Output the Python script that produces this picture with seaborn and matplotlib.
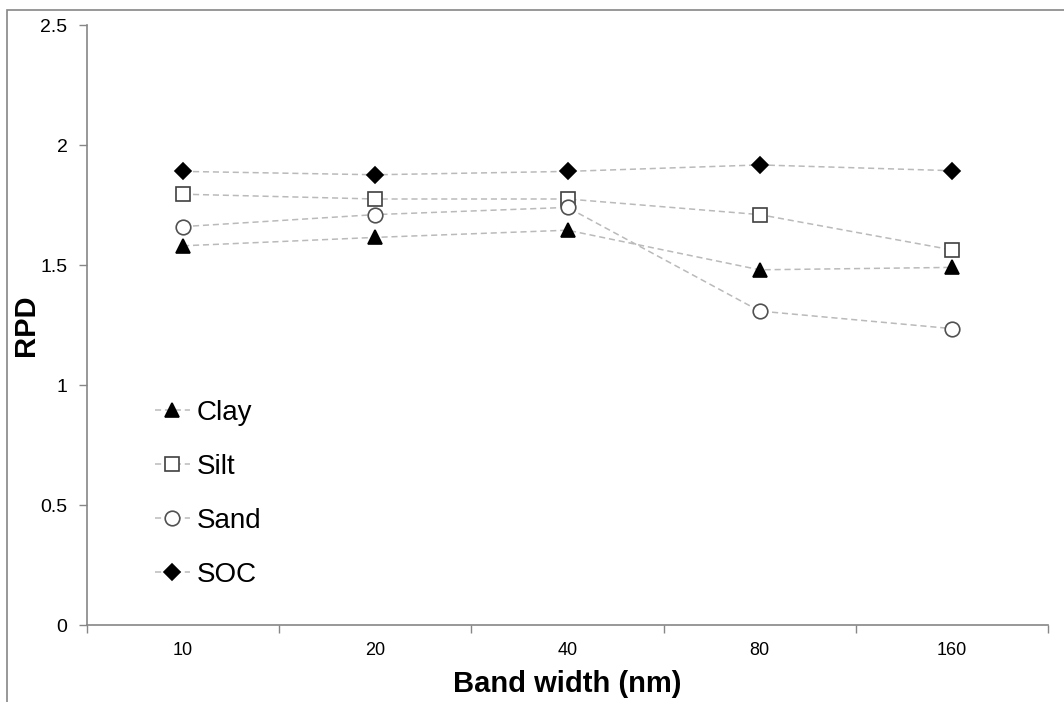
import numpy as np
import pandas as pd
import matplotlib
matplotlib.use("Agg")
import matplotlib.pyplot as plt
from matplotlib.patches import Rectangle
from matplotlib.ticker import FixedLocator
import seaborn as sns

categories = ["10", "20", "40", "80", "160"]
clay = [1.58, 1.615, 1.645, 1.48, 1.49]
silt = [1.795, 1.775, 1.775, 1.71, 1.563]
sand = [1.66, 1.71, 1.74, 1.308, 1.235]
soc = [1.89, 1.876, 1.89, 1.917, 1.893]
series_names = ["Clay", "Silt", "Sand", "SOC"]
y_ticks = [0, 0.5, 1, 1.5, 2, 2.5]
y_tick_labels = ["0", "0.5", "1", "1.5", "2", "2.5"]

sns.set_theme(style="white")
plt.rcParams['font.family'] = ['Liberation Sans', 'DejaVu Sans']
plt.rcParams['text.color'] = 'black'
plt.rcParams['axes.labelcolor'] = 'black'
plt.rcParams['xtick.color'] = 'black'
plt.rcParams['ytick.color'] = 'black'

fig = plt.figure(figsize=(10.64, 7.02), dpi=100)
ax = fig.add_axes([87/1064, 77/702, 961/1064, 600/702])

pos = np.arange(len(categories))
styles = {
    "Clay": dict(marker="^", markersize=10.5, markerfacecolor="black", markeredgecolor="black"),
    "Silt": dict(marker="s", markersize=10.5, markerfacecolor="white", markeredgecolor="#404040"),
    "Sand": dict(marker="o", markersize=10.5, markerfacecolor="white", markeredgecolor="#505050"),
    "SOC": dict(marker="D", markersize=8.5, markerfacecolor="black", markeredgecolor="black"),
}
values = {"Clay": clay, "Silt": silt, "Sand": sand, "SOC": soc}
for name in series_names:
    df = pd.DataFrame({"x": pos, "y": values[name]})
    sns.lineplot(data=df, x="x", y="y", ax=ax, sort=False, color="#bababa",
                 linewidth=1.1, linestyle=(0, (4, 2.5)), markeredgewidth=1.2,
                 label=name, **styles[name])

ax.set_xlim(-0.5, len(categories) - 0.5)
ax.set_ylim(0, 2.5)
ax.set_xticks(pos)
ax.set_xticklabels(categories, fontsize=13)
ax.xaxis.set_minor_locator(FixedLocator(np.arange(-0.5, len(categories), 1.0)))
ax.tick_params(axis="x", which="major", length=0, pad=12, labelcolor="black")
ax.tick_params(axis="x", which="minor", length=6, width=1, color="#868686", direction="out", bottom=True)
ax.set_yticks(y_ticks)
ax.set_yticklabels(y_tick_labels, fontsize=14)
ax.tick_params(axis="y", which="major", length=6, width=1, color="#868686", direction="out",
               left=True, pad=8, labelcolor="black")

for s in ["top", "right"]:
    ax.spines[s].set_visible(False)
for s in ["left", "bottom"]:
    ax.spines[s].set_color("#868686")
    ax.spines[s].set_linewidth(1.2)

ax.set_xlabel("Band width (nm)", fontsize=21, fontweight="bold", labelpad=8, color="black")
ax.set_ylabel("RPD", fontsize=21, fontweight="bold", color="black")
ax.yaxis.set_label_coords((40 - 87) / 961, 0.5)
ax.grid(False)

leg = ax.legend(loc="upper left", bbox_to_anchor=(0.0447, 0.4167), frameon=False,
                fontsize=20, handlelength=1.25, handletextpad=0.25, labelspacing=1.01)
for t in leg.get_texts():
    t.set_color("black")

fig.patches.append(Rectangle((7/1064, -0.1), 1.2, (702 - 10)/702 + 0.1,
                             transform=fig.transFigure, fill=False,
                             edgecolor="#868686", linewidth=1.2))

fig.savefig("out.png", dpi=100, facecolor="white")
